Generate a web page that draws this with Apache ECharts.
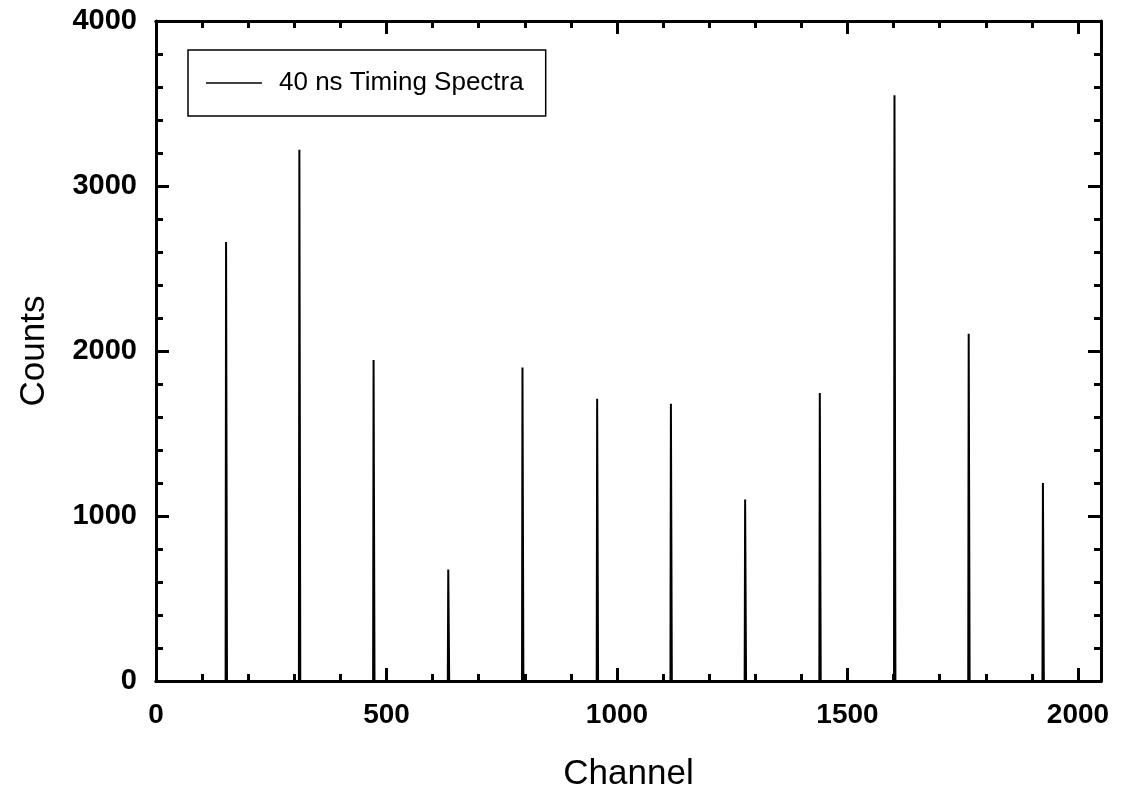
<!DOCTYPE html>
<html>
<head>
<meta charset="utf-8">
<script src="https://cdn.jsdelivr.net/npm/echarts@6/dist/echarts.min.js"></script>
<style>
html,body{margin:0;padding:0;background:#fff;}
#chart{width:1123px;height:797px;}
</style>
</head>
<body>
<div id="chart"></div>
<script>
// Peak channels and counts
var peakChannels = [152, 311, 472, 634, 795, 957, 1117, 1278, 1440, 1602, 1763, 1924];
var peakCounts   = [2660, 3220, 1945, 675, 1900, 1710, 1680, 1100, 1745, 3550, 2105, 1200];
var shoulderCounts = [1330, 1610, 975, 340, 950, 855, 840, 550, 870, 1775, 1050, 600];
var seriesName = '40 ns Timing Spectra';
var xTickMajor = 500, xTickMinor = 100, xMin = 0, xMax = 2050;
var yMin = 0, yMax = 4000, yTick = 1000;

var data = [[0, 0]];
for (var i = 0; i < peakChannels.length; i++) {
  var c = peakChannels[i];
  data.push([c - 1, 0]);
  data.push([c, peakCounts[i]]);
  data.push([c + 1, shoulderCounts[i]]);
  data.push([c + 2, 0]);
}
data.push([2047, 0]);

var font = '"Liberation Sans", Arial, sans-serif';
var axisLine = {show: true, onZero: false, lineStyle: {color: '#000', width: 3}};
var plain = function (v) { return String(v); };

function xAx(pos, interval, len, labels) {
  return {
    type: 'value', position: pos, min: xMin, max: xMax, interval: interval,
    axisLine: axisLine,
    axisTick: {show: true, inside: true, length: len, lineStyle: {color: '#000', width: 3}},
    axisLabel: {show: labels, showMaxLabel: false, margin: 20, fontSize: 28, fontWeight: 'bold', color: '#000', fontFamily: font, formatter: plain},
    splitLine: {show: false}
  };
}
var xAxes = [xAx('bottom', xTickMajor, 13, true), xAx('bottom', xTickMinor, 7, false), xAx('top', xTickMajor, 13, false), xAx('top', xTickMinor, 7, false)];
xAxes[0].name = 'Channel';
xAxes[0].nameLocation = 'middle';
xAxes[0].nameGap = 76;
xAxes[0].nameTextStyle = {fontSize: 35, color: '#000', fontFamily: font};

function yAx(pos, labels) {
  return {
    type: 'value', position: pos, min: yMin, max: yMax, interval: yTick,
    axisLine: axisLine,
    axisTick: {show: true, inside: true, length: 13, lineStyle: {color: '#000', width: 3}},
    minorTick: {show: true, splitNumber: 5, length: 7, lineStyle: {color: '#000', width: 3}},
    axisLabel: {show: labels, margin: 19, fontSize: 29, fontWeight: 'bold', color: '#000', fontFamily: font, formatter: plain},
    splitLine: {show: false}, minorSplitLine: {show: false}
  };
}
var yAxes = [yAx('left', true), yAx('right', false)];
yAxes[0].name = 'Counts';
yAxes[0].nameLocation = 'middle';
yAxes[0].nameGap = 104;
yAxes[0].nameTextStyle = {fontSize: 35, color: '#000', fontFamily: font};

var chart = echarts.init(document.getElementById('chart'), null, {renderer: 'canvas'});
chart.setOption({
  animation: false,
  backgroundColor: '#fff',
  grid: {left: 156, right: 22, top: 21, bottom: 114, containLabel: false},
  legend: {
    show: true, left: 188, top: 50,
    data: [{name: seriesName, icon: 'rect'}],
    itemWidth: 56, itemHeight: 1.5,
    padding: [20, 22, 20, 18],
    borderColor: '#000', borderWidth: 1.5, borderRadius: 0,
    formatter: function (name) { return '{g|}' + name; },
    textStyle: {fontSize: 26, color: '#000', fontFamily: font, rich: {g: {width: 12, fontSize: 26}}}
  },
  xAxis: xAxes,
  yAxis: yAxes,
  series: [{
    name: seriesName, type: 'line', xAxisIndex: 0, yAxisIndex: 0,
    data: data, showSymbol: false, symbol: 'none',
    lineStyle: {color: '#000', width: 2},
    itemStyle: {color: '#000'}
  }]
});
</script>
</body>
</html>
